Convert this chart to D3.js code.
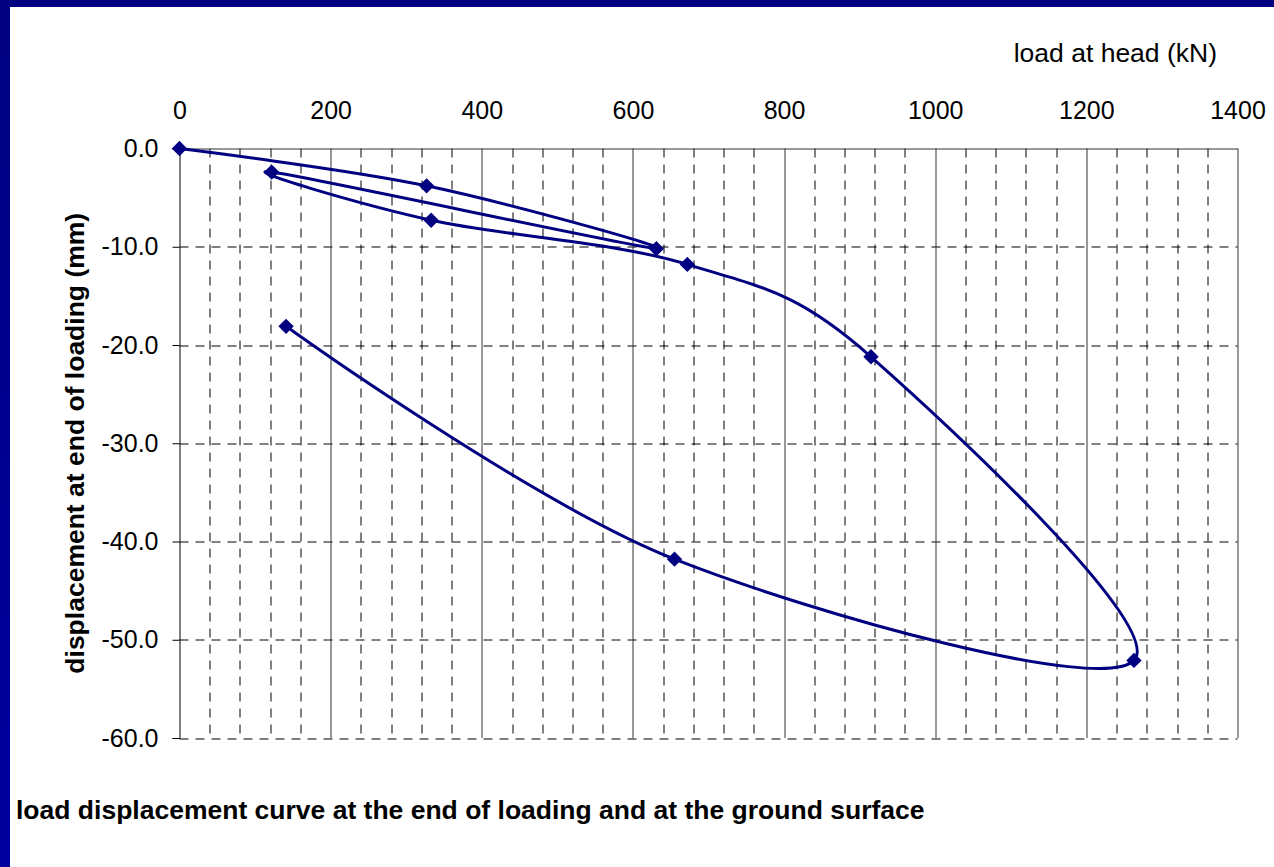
<!DOCTYPE html>
<meta charset="utf-8">
<html>
<head>
<script src="https://cdn.jsdelivr.net/npm/d3@7/dist/d3.min.js"></script>
<style>
  body { margin: 0; background: #fff; }
  text { font-family: Arial, "Liberation Sans", sans-serif; }
</style>
</head>
<body>
<div id="chart"></div>
<script>

// load / displacement readings, in the order they were recorded
var loads = [0, 327, 631, 122, 333, 672, 915, 1263, 655, 141];
var displacements = [0.0, -3.8, -10.2, -2.4, -7.3, -11.8, -21.2, -52.1, -41.8, -18.1];

var xTicks = [0, 200, 400, 600, 800, 1000, 1200, 1400];
var xMinor = d3.range(0, 1401, 40);
var yTicks = [0, -10, -20, -30, -40, -50, -60];

var xTitle = "load at head (kN)";
var yTitle = "displacement at end of loading (mm)";
var bottomTitle = "load displacement curve at the end of loading and at the ground surface";

var W = 1274, H = 867;
var margin = {top: 148.5, right: 36.5, bottom: 129, left: 179.5},
    width = W - margin.left - margin.right,
    height = H - margin.top - margin.bottom;

var svg = d3.select("#chart")
  .append("svg")
    .attr("width", W)
    .attr("height", H);

// slide frame: navy bar on top and on the left
var grad = svg.append("defs").append("linearGradient")
    .attr("id", "leftbar").attr("x1", 0).attr("y1", 0).attr("x2", 0).attr("y2", 1);
grad.append("stop").attr("offset", "0%").attr("stop-color", "#000080");
grad.append("stop").attr("offset", "100%").attr("stop-color", "#00009f");

svg.append("rect").attr("width", W).attr("height", H).attr("fill", "#fff");
svg.append("rect").attr("width", 10).attr("height", H).attr("fill", "url(#leftbar)");
svg.append("rect").attr("width", W).attr("height", 7).attr("fill", "#000080");

var g = svg.append("g")
    .attr("transform", "translate(" + margin.left + "," + margin.top + ")");

var x = d3.scaleLinear().domain([0, 1400]).range([0, width]);
var y = d3.scaleLinear().domain([0, -60]).range([0, height]);

// plain hyphen for negatives, like the spreadsheet
var fmt = d3.formatLocale({decimal: ".", thousands: ",", grouping: [3], currency: ["", ""], minus: "-"});

// minor vertical grid (dashed)
g.append("g").selectAll("line")
  .data(xMinor.filter(function(d) { return d % 200 != 0; }))
  .enter().append("line")
    .attr("x1", function(d) { return Math.round(x(d)) + 0.5; })
    .attr("x2", function(d) { return Math.round(x(d)) + 0.5; })
    .attr("y1", 0).attr("y2", height)
    .attr("stroke", "#000")
    .attr("stroke-dasharray", "9,7");

// horizontal grid (dashed)
g.append("g").selectAll("line")
  .data(yTicks.filter(function(d) { return d != 0; }))
  .enter().append("line")
    .attr("x1", 0).attr("x2", width)
    .attr("y1", function(d) { return Math.round(y(d)) + 0.5; })
    .attr("y2", function(d) { return Math.round(y(d)) + 0.5; })
    .attr("stroke", "#000")
    .attr("stroke-dasharray", "9,7");

// major vertical grid (solid)
g.append("g").selectAll("line")
  .data(xTicks.filter(function(d) { return d != 0; }))
  .enter().append("line")
    .attr("x1", function(d) { return Math.round(x(d)) + 0.5; })
    .attr("x2", function(d) { return Math.round(x(d)) + 0.5; })
    .attr("y1", 0).attr("y2", height)
    .attr("stroke", "#333");

// X axis on top, labels only
var xAxis = g.append("g")
    .call(d3.axisTop(x).tickValues(xTicks).tickSize(0).tickPadding(30).tickFormat(d3.format("d")));
xAxis.select(".domain").attr("stroke", "#333");
xAxis.selectAll("text").style("font-size", "25px").attr("fill", "#000");

// Y axis on the left
var yAxis = g.append("g")
    .call(d3.axisLeft(y).tickValues(yTicks).tickSize(7).tickPadding(14).tickFormat(fmt.format(".1f")));
yAxis.select(".domain").attr("stroke", "#000");
yAxis.selectAll(".tick line").attr("stroke", "#000");
yAxis.selectAll("text").style("font-size", "25px").attr("fill", "#000");

// axis titles
svg.append("text")
    .attr("x", 1217).attr("y", 62)
    .attr("text-anchor", "end")
    .style("font-size", "26.5px")
    .text(xTitle);

svg.append("text")
    .attr("transform", "translate(84," + (margin.top + height / 2) + ") rotate(-90)")
    .attr("text-anchor", "middle")
    .style("font-size", "26.5px")
    .style("font-weight", "bold")
    .text(yTitle);

svg.append("text")
    .attr("x", 16).attr("y", 819)
    .style("font-size", "26.5px")
    .style("font-weight", "bold")
    .text(bottomTitle);

// the curve
var data = loads.map(function(d, i) { return {x: d, y: displacements[i]}; });

g.append("path")
    .datum(data)
    .attr("fill", "none")
    .attr("stroke", "#000080")
    .attr("stroke-width", 3)
    .attr("d", d3.line()
      .curve(d3.curveCatmullRom.alpha(0))
      .x(function(d) { return x(d.x); })
      .y(function(d) { return y(d.y); }));

// diamond markers
g.append("g").selectAll("path")
  .data(data)
  .enter().append("path")
    .attr("transform", function(d) { return "translate(" + x(d.x) + "," + y(d.y) + ") rotate(45)"; })
    .attr("d", d3.symbol().type(d3.symbolSquare).size(118))
    .attr("fill", "#000080");

</script>
</body>
</html>
